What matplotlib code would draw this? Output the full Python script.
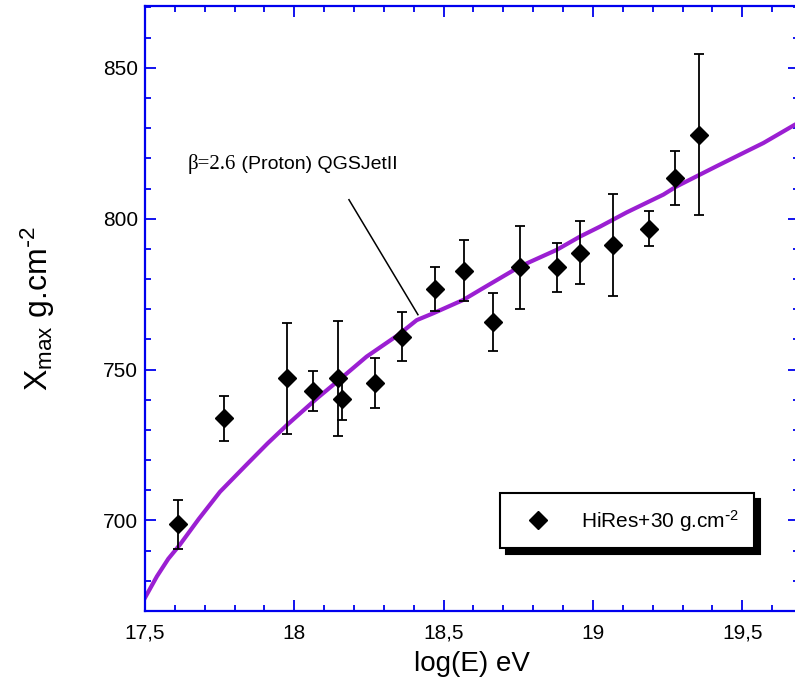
import matplotlib
matplotlib.use("Agg")
import matplotlib.pyplot as plt
import matplotlib.ticker as mticker
from matplotlib.lines import Line2D

plt.rcParams.update({
    "font.family": ["Liberation Sans", "DejaVu Sans"],
    "mathtext.default": "regular",
    "axes.unicode_minus": False,
})

# --- Data ---
# HiRes Xmax (shifted +30 g/cm2)
log_e = [17.61, 17.765, 17.977, 18.062, 18.147, 18.161, 18.270, 18.361, 18.471,
         18.568, 18.666, 18.756, 18.879, 18.957, 19.068, 19.189, 19.275, 19.355]
xmax = [698.7, 733.8, 747.1, 742.9, 747.1, 740.2, 745.7, 760.9, 776.7,
        782.8, 765.7, 783.9, 783.9, 788.8, 791.3, 796.7, 813.5, 827.9]
xmax_err = [8.0, 7.6, 18.5, 6.7, 19.0, 7.0, 8.3, 8.2, 7.2,
            10.2, 9.7, 13.7, 8.2, 10.3, 17.0, 5.8, 9.1, 26.8]

# QGSJetII proton curve, beta = 2.6
curve_x = [17.50, 17.54, 17.578, 17.617, 17.68, 17.751, 17.84, 17.91, 17.975,
           18.075, 18.142, 18.242, 18.348, 18.41, 18.466, 18.566, 18.622, 18.756,
           18.879, 18.957, 19.024, 19.113, 19.236, 19.28, 19.414, 19.526, 19.571,
           19.677, 19.72]
curve_y = [674.4, 681.5, 687.3, 692.0, 700.5, 709.5, 718.5, 725.5, 731.6,
           740.4, 745.9, 754.3, 761.5, 766.4, 768.7, 773.1, 776.4, 784.2,
           789.7, 794.1, 797.4, 802.1, 808.0, 810.7, 817.4, 822.9, 825.1,
           831.2, 833.0]

x_ticks = [17.5, 18.0, 18.5, 19.0, 19.5]
x_ticklabels = ["17,5", "18", "18,5", "19", "19,5"]
y_ticks = [700, 750, 800, 850]

# --- Plot ---
fig = plt.figure(figsize=(7.95, 6.88), dpi=100)
ax = fig.add_axes([0.1824, 0.1119, 0.8226, 0.8794])

axis_blue = "#0000ee"

ax.plot(curve_x, curve_y, color="#9b1fd2", lw=3.0, zorder=2)
ax.errorbar(log_e, xmax, yerr=xmax_err, fmt="D", color="black", ms=9,
            elinewidth=1.3, capsize=3.5, capthick=1.3, zorder=3)

ax.set_xlim(17.5, 19.69)
ax.set_ylim(670, 870.5)

ax.set_xticks(x_ticks)
ax.set_xticklabels(x_ticklabels)
ax.xaxis.set_minor_locator(mticker.MultipleLocator(0.1))
ax.set_yticks(y_ticks)
ax.yaxis.set_minor_locator(mticker.MultipleLocator(10))

for s in ax.spines.values():
    s.set_color(axis_blue)
    s.set_linewidth(1.6)

ax.tick_params(which="both", direction="in", top=True, right=True,
               color=axis_blue, width=1.3, labelsize=15, labelcolor="black")
ax.tick_params(which="major", length=8)
ax.tick_params(which="minor", length=4)
ax.tick_params(axis="x", pad=9)
ax.tick_params(axis="y", pad=5)

ax.set_xlabel("log(E) eV", fontsize=20, labelpad=6)
ax.set_ylabel(r"X$_{max}$ g.cm$^{\text{-}2}$", fontsize=23, labelpad=33)

# annotation for the curve
t1 = ax.text(17.642, 818.0, "\u03b2=2.6", family=["Liberation Serif"],
             fontsize=15, va="center", ha="left")
ax.annotate(" (Proton) QGSJetII", xy=(1, 0.5), xycoords=t1, va="center",
            ha="left", fontsize=14)
ax.plot([18.183, 18.414], [806.3, 768.2], color="black", lw=1.1, zorder=2)

handle = Line2D([], [], marker="D", color="black", ls="none", ms=9)
leg = ax.legend([handle], [r"HiRes+30 g.cm$^{\text{-}2}$"], loc="lower left",
                bbox_to_anchor=(0.543, 0.104), borderaxespad=0, fontsize=15,
                frameon=True, fancybox=False, framealpha=1, edgecolor="black",
                borderpad=0.7, handletextpad=1.0, handlelength=2.2,
                shadow={"ox": 4, "oy": -4, "color": "black", "alpha": 1})
leg.get_frame().set_linewidth(1.5)

fig.savefig("out.png", dpi=100, facecolor="white")
